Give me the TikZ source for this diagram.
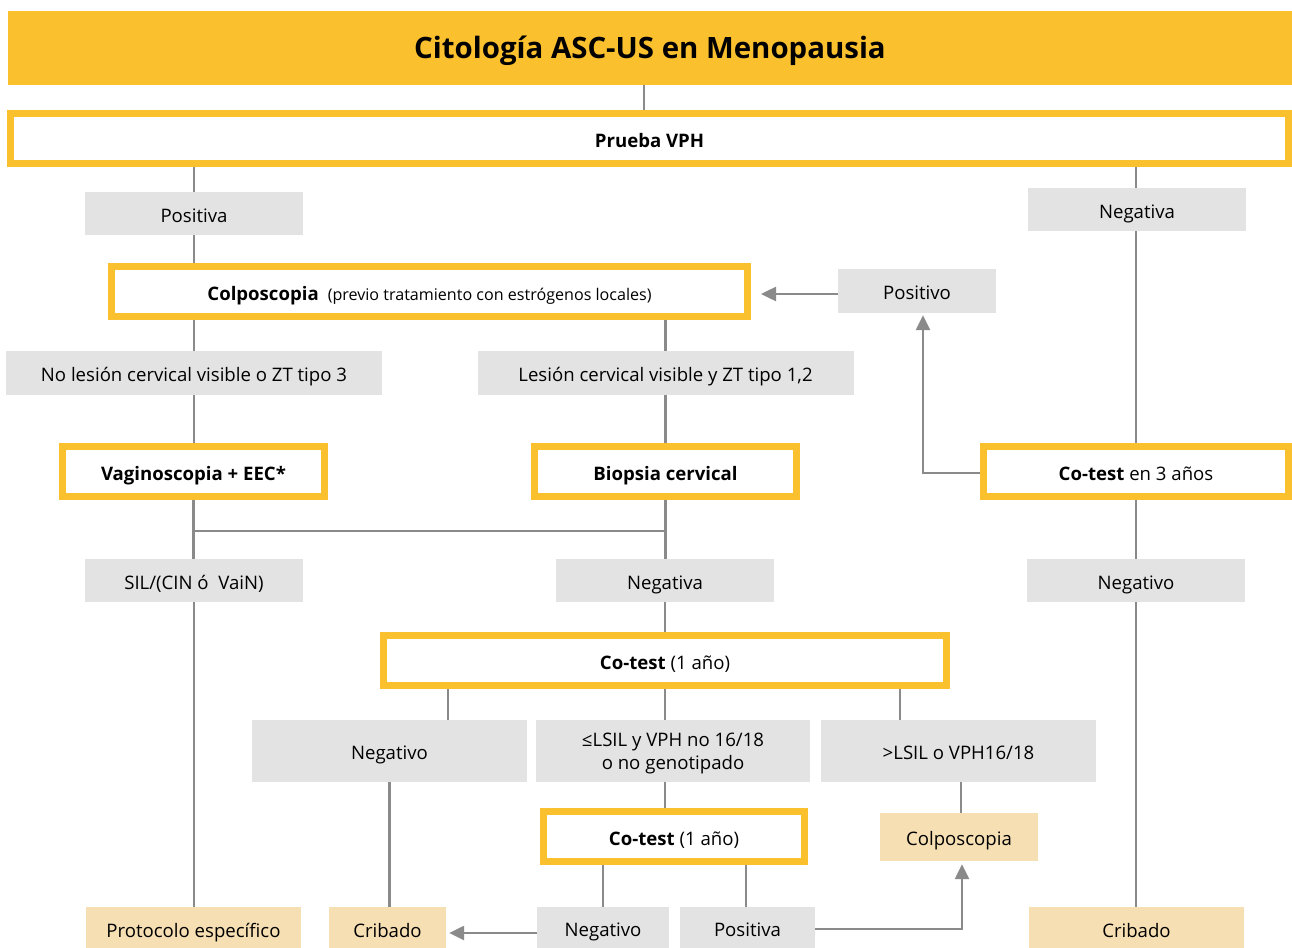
\documentclass[tikz,border=0pt]{standalone}
\usepackage{fontspec}
\setmainfont{Open Sans}
\usetikzlibrary{arrows.meta,calc}
\definecolor{amber}{HTML}{FBC02D}
\definecolor{greybox}{HTML}{E3E3E3}
\definecolor{sand}{HTML}{F7DFB4}
\definecolor{wirecol}{HTML}{8A8A8A}
\pgfdeclarelayer{bg}
\pgfsetlayers{bg,main}

\begin{document}
\begin{tikzpicture}[x=1pt,y=-1pt,
  every node/.style={inner sep=0pt, text height=17pt, text depth=0pt,
                     font=\fontsize{18.6}{23}\selectfont},
  banner/.style={fill=amber, minimum width=1284pt, minimum height=74pt,
                 text height=21pt, font=\fontsize{29.4}{34}\selectfont\bfseries},
  stage/.style={draw=amber, line width=7pt, fill=white},
  tag/.style={fill=greybox},
  leaf/.style={fill=sand},
  wire/.style={draw=wirecol, line width=2.5pt},
  flow/.style={wire, -{Triangle[length=15pt,width=14pt]}}]

\useasboundingbox (0,0) rectangle (1292,947);

% header and first test
\node[banner] (title) at (650,48) {Citología ASC-US en Menopausia};
\node[stage, minimum width=1278pt, minimum height=50pt, font=\fontsize{18.6}{23}\selectfont\bfseries]
  (vph) at (649.5,138.5) {Prueba VPH};

% HPV result branches
\node[tag, minimum width=218pt, minimum height=43pt] (pos) at (194,213.5) {Positiva};
\node[tag, minimum width=218pt, minimum height=43pt] (neg) at (1137,209.5) {Negativa};

\node[stage, minimum width=636pt, minimum height=50pt] (colpo) at (429.5,291.5)
  {\textbf{Colposcopia}\hspace{9pt}{\fontsize{16.1}{19}\selectfont(previo tratamiento con estrógenos locales)}};
\node[tag, minimum width=158pt, minimum height=44pt] (positivo) at (917,291) {Positivo};
\node[stage, minimum width=305pt, minimum height=50pt] (cot3) at (1136,471.5) {\textbf{Co-test} en 3 años};

% colposcopy findings
\node[tag, minimum width=376pt, minimum height=44pt] (nolesion) at (194,373) {No lesión cervical visible o ZT tipo 3};
\node[tag, minimum width=376pt, minimum height=44pt] (lesion) at (665.5,373) {Lesión cervical visible y ZT tipo 1,2};

\node[stage, minimum width=262pt, minimum height=50pt] (vagino) at (193.5,471.5) {\textbf{Vaginoscopia + EEC*}};
\node[stage, minimum width=262pt, minimum height=50pt] (biopsia) at (665.5,471.5) {\textbf{Biopsia cervical}};

% histology
\node[tag, minimum width=218pt, minimum height=43pt] (sil) at (194,580.5) {SIL/(CIN ó\ \ VaiN)};
\node[tag, minimum width=218pt, minimum height=43pt] (negmid) at (665,580.5) {Negativa};
\node[tag, minimum width=218pt, minimum height=43pt] (negright) at (1136,580.5) {Negativo};

\node[stage, minimum width=563pt, minimum height=50pt] (cot1) at (665,660.5) {\textbf{Co-test} (1 año)};

% yearly co-test results
\node[tag, minimum width=275pt, minimum height=62pt] (negco) at (389.5,751) {Negativo};
\node[tag, minimum width=274pt, minimum height=62pt, text height=37.5pt] (lsil) at (673,751)
  {\parbox[b]{260pt}{\centering ≤LSIL y VPH no 16/18\\o no genotipado}};
\node[tag, minimum width=275pt, minimum height=62pt] (hsil) at (958.5,751) {>LSIL o VPH16/18};

\node[stage, minimum width=261pt, minimum height=50pt] (cot2) at (674,836.5) {\textbf{Co-test} (1 año)};
\node[leaf, minimum width=158pt, minimum height=48pt] (colposm) at (959,837) {Colposcopia};

% final outcomes
\node[tag, minimum width=132pt, minimum height=41pt] (negb) at (603,927.5) {Negativo};
\node[tag, minimum width=135pt, minimum height=41pt] (posb) at (747.5,927.5) {Positiva};
\node[leaf, minimum width=215pt, minimum height=44pt] (proto) at (193.5,929) {Protocolo específico};
\node[leaf, minimum width=117pt, minimum height=44pt] (cribl) at (387.5,929) {Cribado};
\node[leaf, minimum width=215pt, minimum height=44pt] (cribr) at (1136.5,929) {Cribado};

\begin{pgfonlayer}{bg}
  \draw[wire] ([xshift=-6pt]title.south) -- ([xshift=-6pt]title.south |- vph.north);
  \draw[wire] (vph.south -| pos.north) -- (pos.north);
  \draw[wire] (vph.south -| cot3.north) -- (cot3.north);
  \draw[wire] (pos.south) -- (pos.south |- colpo.north);
  \draw[wire] (colpo.south -| nolesion.north) -- (nolesion.north);
  \draw[wire] (colpo.south -| lesion.north) -- (lesion.north);
  \draw[wire] (nolesion.south) -- (nolesion.south |- vagino.north);
  \draw[wire] (lesion.south) -- (lesion.south |- biopsia.north);
  \draw[wire] (vagino.south) -- (vagino.south |- sil.north);
  \draw[wire] (biopsia.south) -- (biopsia.south |- negmid.north);
  \draw[wire] ($(vagino.south)!0.53!(sil.north)$) -- ($(biopsia.south)!0.53!(negmid.north)$);
  \draw[wire] (cot3.south) -- (cot3.south |- negright.north);
  \draw[wire] (negright.south) -- (negright.south |- cribr.north);
  \draw[wire] (sil.south) -- (sil.south |- proto.north);
  \draw[wire] (negmid.south) -- (negmid.south |- cot1.north);
  \draw[wire] ([xshift=58.5pt]negco.north) -- ([xshift=58.5pt]negco.north |- cot1.south);
  \draw[wire] (cot1.south) -- (cot1.south |- lsil.north);
  \draw[wire] ([xshift=-58.5pt]hsil.north) -- ([xshift=-58.5pt]hsil.north |- cot1.south);
  \draw[wire] (negco.south) -- (negco.south |- cribl.north);
  \draw[wire] ([xshift=-8pt]lsil.south) -- ([xshift=-8pt]lsil.south |- cot2.north);
  \draw[wire] ([xshift=2pt]colposm.north) -- ([xshift=2pt]colposm.north |- hsil.south);
  \draw[wire] (negb.north) -- (negb.north |- cot2.south);
  \draw[wire] ([xshift=-1.5pt]posb.north) -- ([xshift=-1.5pt]posb.north |- cot2.south);
\end{pgfonlayer}

% arrows (yshift is on the page, so a negative value moves down)
\draw[flow, shorten >=10pt] ([yshift=-3pt]positivo.west) -- ([yshift=-3pt]positivo.west -| colpo.east);
\draw[flow, shorten >=2pt] ([yshift=-1.5pt]cot3.west) -| ([xshift=6pt]positivo.south);
\draw[flow, shorten >=3pt] ([yshift=-5.5pt]negb.west) -- ([yshift=-5.5pt]negb.west -| cribl.east);
\draw[flow, shorten >=3pt] ([yshift=-1.5pt]posb.east) -| ([xshift=3pt]colposm.south);
\end{tikzpicture}
\end{document}
